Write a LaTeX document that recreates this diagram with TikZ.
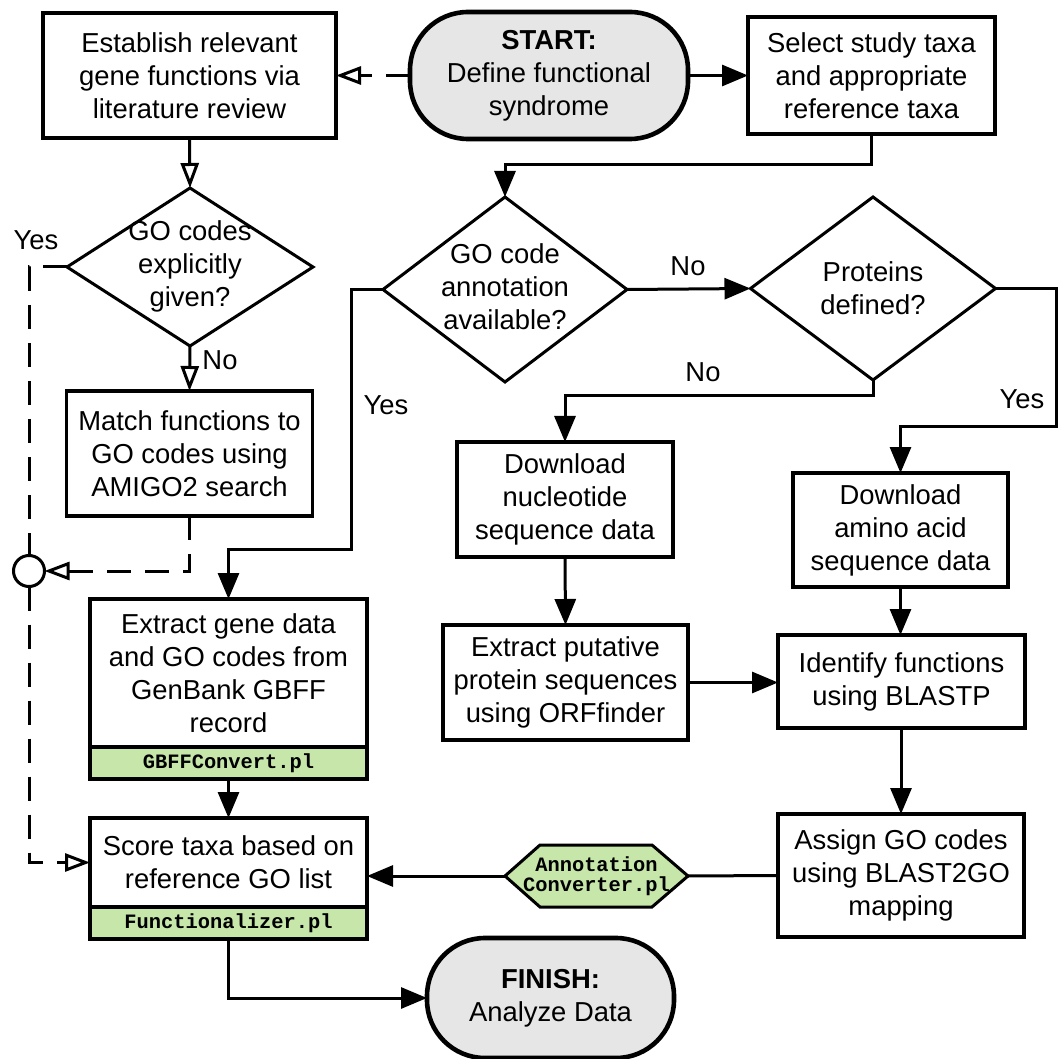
\documentclass[tikz,border=0pt]{standalone}
\usepackage{fontspec}
\setmainfont{Liberation Sans}
\setmonofont{Liberation Mono}
\usetikzlibrary{arrows.meta,shapes.geometric,calc}
\definecolor{codegreen}{RGB}{198,230,170}
\definecolor{termgray}{RGB}{230,230,230}
\begin{document}
\begin{tikzpicture}[x=1pt,y=-1pt,
  every node/.style={font=\fontsize{27.4}{33}\selectfont},
  proc/.style={draw, line width=3.2pt, align=center, inner sep=0pt, outer sep=0pt},
  term/.style={proc, line width=4.6pt, fill=termgray, rounded corners=58pt},
  codebar/.style={proc, fill=codegreen, font=\fontsize{20.4}{20.4}\selectfont\ttfamily\bfseries},
  codetext/.style={align=center, inner sep=0pt, font=\fontsize{20.4}{20}\selectfont\ttfamily\bfseries},
  dec/.style={draw, diamond, line width=3pt, inner sep=0pt, outer sep=0pt},
  dectext/.style={align=center, inner sep=0pt},
  flow/.style={line width=3pt, -{Triangle[length=26pt,width=21pt]}},
  openflow/.style={line width=3pt, -{Triangle[length=25pt,width=18pt,fill=white]}},
  dashflow/.style={openflow, dash pattern=on 24pt off 14pt},
  dashline/.style={line width=3pt, dash pattern=on 24pt off 14pt},
  plainline/.style={line width=3pt},
  lbl/.style={inner sep=0pt}
]
\useasboundingbox (0,0) rectangle (1061,1059);

% process boxes
\node[proc, minimum width=293pt, minimum height=125pt] (est) at (189.5,75.5) {Establish relevant\\gene functions via\\literature review};
\node[term, minimum width=278pt, minimum height=127pt] (start) at (549,75.5) {\textbf{START:}\\Define functional\\syndrome};
\node[proc, minimum width=247pt, minimum height=117pt] (sel) at (871.5,75.5) {Select study taxa\\and appropriate\\reference taxa};

% decisions
\node[dec, minimum width=246pt, minimum height=158pt] (d1) at (190,267) {};
\node[dectext] (d1t) at (190,266) {GO codes\\explicitly\\given?};
\node[dec, minimum width=244pt, minimum height=185pt] (d2) at (505,289.5) {};
\node[dectext] (d2t) at (505,287) {GO code\\annotation\\available?};
\node[dec, minimum width=245pt, minimum height=183pt] (pr) at (873,288.5) {};
\node[dectext] (prt) at (873,288) {Proteins\\defined?};

\node[proc, minimum width=246pt, minimum height=125pt] (mt) at (189.5,453.5) {Match functions to\\GO codes using\\AMIGO2 search};
\node[draw, circle, line width=3pt, minimum size=31pt, inner sep=0pt, outer sep=0pt, fill=white] (jc) at (29,571) {};

\node[proc, minimum width=277pt, minimum height=148pt] (eg) at (228.5,673) {Extract gene data\\and GO codes from\\GenBank GBFF\\record};
\node[codebar, minimum width=277pt, minimum height=32pt] (egc) at (228.5,763) {GBFFConvert.pl};

\node[proc, minimum width=277pt, minimum height=89pt] (sc) at (228.5,862.5) {Score taxa based on\\reference GO list};
\node[codebar, minimum width=277pt, minimum height=32pt] (scc) at (228.5,923) {Functionalizer.pl};

\node[proc, minimum width=216pt, minimum height=115pt] (dn) at (565,499.5) {Download\\nucleotide\\sequence data};
\node[proc, minimum width=245pt, minimum height=115pt] (ep) at (565.5,682.5) {Extract putative\\protein sequences\\using ORFfinder};
\node[proc, minimum width=215pt, minimum height=114pt] (da) at (900.5,530) {Download\\amino acid\\sequence data};
\node[proc, minimum width=247pt, minimum height=93pt] (idf) at (901.5,681.5) {Identify functions\\using BLASTP};
\node[proc, minimum width=246pt, minimum height=123pt] (asg) at (901,875.5) {Assign GO codes\\using BLAST2GO\\mapping};

% hexagon
\node[minimum width=183pt, minimum height=62pt, inner sep=0pt, outer sep=0pt] (hx) at (596.5,876) {};
\draw[line width=3pt, fill=codegreen, line join=miter]
  (hx.west) -- ([xshift=35pt]hx.north west) -- ([xshift=-36pt]hx.north east) -- (hx.east)
  -- ([xshift=-36pt]hx.south east) -- ([xshift=35pt]hx.south west) -- cycle;
\node[codetext] (hxt) at (hx) {Annotation\\Converter.pl};

\node[term, minimum width=247pt, minimum height=120pt] (fin) at (550.5,998) {\textbf{FINISH:}\\Analyze Data};

% bend points
\coordinate (b3) at (0,165);
\coordinate (b9) at (351,549);
\coordinate (b11) at (0,396);
\coordinate (b12) at (1056,427);

% connectors
\draw[dashflow] (start.west) -- (est.east);
\draw[flow] (start.east) -- (sel.west);
\draw[flow] (sel.south) -- (sel.south |- b3) -- (d2.north |- b3) -- (d2.north);
\draw[openflow] (est.south) -- (d1.north);
\draw[openflow] (d1.south) -- (mt.north);
\draw[dashline] (d1.west) -- (d1.west -| jc) -- (jc.north);
\draw[dashflow] (mt.south) -- (mt.south |- jc) -- (jc.east);
\draw[dashflow] (jc.south) -- (jc |- sc.west) -- (sc.west);
\draw[flow] (d2.west) -- (d2.west -| b9) -- (b9) -- (b9 -| eg.north) -- (eg.north);
\draw[flow] (d2.east) -- (pr.west);
\draw[flow] (pr.south) -- (pr.south |- b11) -- (dn.north |- b11) -- (dn.north);
\draw[flow] (pr.east) -- (pr.east -| b12) -- (b12) -- (b12 -| da.north) -- (da.north);
\draw[flow] (dn.south) -- (ep.north);
\draw[flow] (da.south) -- (da.south |- idf.north);
\draw[flow] (ep.east) -- (ep.east -| idf.west);
\draw[flow] (idf.south -| asg.north) -- (asg.north);
\draw[flow] (egc.south) -- (sc.north);
\draw[plainline] (asg.west) -- (hx.east);
\draw[flow] (hx.west) -- (hx.west -| sc.east);
\draw[flow] (scc.south) -- (scc.south |- fin.west) -- (fin.west);

% labels
\node[lbl] (l1) at (36,240) {Yes};
\node[lbl] (l2) at (220,360) {No};
\node[lbl] (l3) at (386,405) {Yes};
\node[lbl] (l4) at (688,266) {No};
\node[lbl] (l5) at (703,372) {No};
\node[lbl] (l6) at (1022,399) {Yes};
\end{tikzpicture}
\end{document}
